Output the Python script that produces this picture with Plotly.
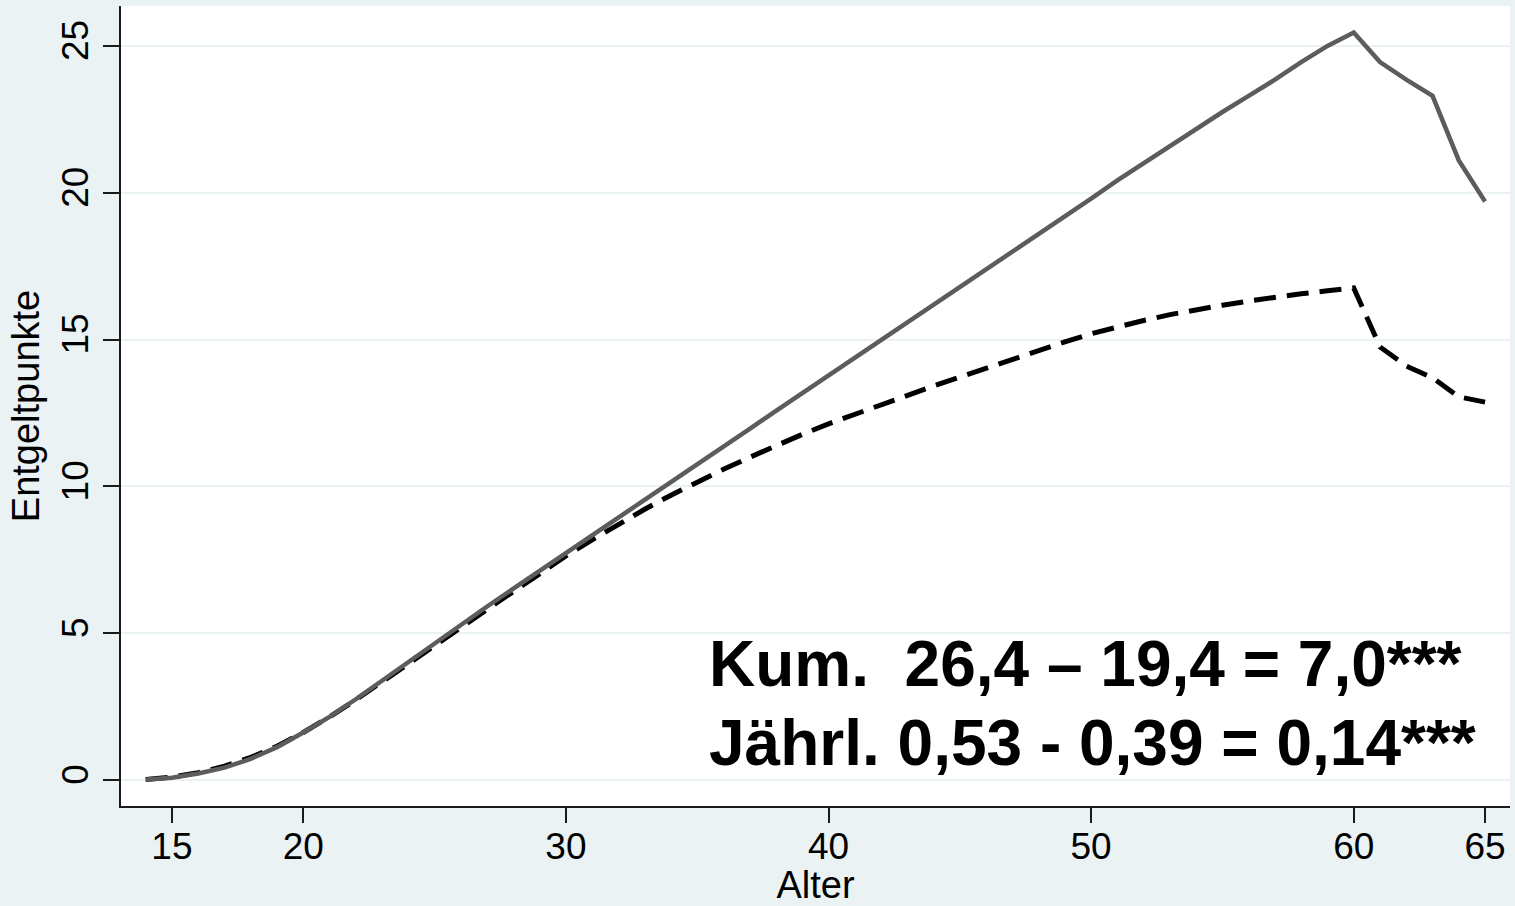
import plotly.graph_objects as go

ages = list(range(14, 66))

solid_vals = [0.02, 0.08, 0.22, 0.42, 0.72, 1.12, 1.62, 2.15, 2.75, 3.38,
              4.05, 4.68, 5.3, 5.91, 6.52, 7.12, 7.73, 8.33, 8.94, 9.54,
              10.15, 10.75, 11.36, 11.96, 12.57, 13.17, 13.78, 14.38, 14.99, 15.59,
              16.2, 16.78, 17.38, 17.98, 18.6, 19.2, 19.8, 20.42, 21.0, 21.6,
              22.2, 22.75, 23.3, 23.85, 24.45, 25.0, 25.46, 24.45, 23.85, 23.3,
              21.1, 19.7]

dashed_vals = [0.02, 0.1, 0.25, 0.47, 0.77, 1.15, 1.62, 2.15, 2.73, 3.35,
               3.98, 4.6, 5.22, 5.82, 6.42, 7.02, 7.63, 8.18, 8.72, 9.22,
               9.7, 10.15, 10.58, 10.99, 11.4, 11.77, 12.13, 12.46, 12.79, 13.11,
               13.42, 13.72, 14.03, 14.33, 14.63, 14.92, 15.2, 15.44, 15.65, 15.85,
               16.02, 16.17, 16.31, 16.45, 16.56, 16.66, 16.76, 14.75, 14.1, 13.7,
               13.05, 12.87]

x_ticks = [15, 20, 30, 40, 50, 60, 65]
y_ticks = [0, 5, 10, 15, 20, 25]

annot_lines = ["Kum.  26,4 \u2013 19,4 = 7,0***",
               "J\u00e4hrl. 0,53 - 0,39 = 0,14***"]

BG = "#eaf2f3"
FONT = "Liberation Sans, Arial, Helvetica, sans-serif"

fig = go.Figure()
fig.add_trace(go.Scatter(x=ages, y=dashed_vals, mode="lines",
                         line=dict(color="#000000", width=5, dash="22px,11px"),
                         showlegend=False))
fig.add_trace(go.Scatter(x=ages, y=solid_vals, mode="lines",
                         line=dict(color="#5c5c5c", width=4.5),
                         showlegend=False))

for i, txt in enumerate(annot_lines):
    fig.add_annotation(x=0.422, y=0.178 - i * 0.099, xref="paper", yref="paper",
                       text=f"<b>{txt}</b>", showarrow=False,
                       xanchor="left", yanchor="middle",
                       font=dict(family=FONT, size=64, color="#000000"))

fig.update_layout(
    width=1515, height=906,
    margin=dict(l=121, r=5, t=6, b=100),
    paper_bgcolor=BG, plot_bgcolor="#ffffff",
    font=dict(family=FONT, size=37, color="#000000"),
    showlegend=False,
)
fig.update_xaxes(range=[13.06, 65.95], tickvals=x_ticks, ticktext=[str(v) for v in x_ticks],
                 showgrid=False, zeroline=False, showline=True, linecolor="#1a1a1a", linewidth=2,
                 ticks="outside", ticklen=15, tickwidth=2, tickcolor="#1a1a1a",
                 tickfont=dict(size=37), ticklabelstandoff=-8,
                 title=dict(text="Alter", font=dict(size=38), standoff=6))
fig.update_yaxes(range=[-0.885, 26.36], tickvals=y_ticks, ticktext=[str(v) for v in y_ticks],
                 showgrid=True, gridcolor=BG, gridwidth=2, zeroline=False,
                 showline=True, linecolor="#1a1a1a", linewidth=2,
                 ticks="outside", ticklen=16, tickwidth=2, tickcolor="#1a1a1a",
                 tickangle=-90, tickfont=dict(size=37),
                 title=dict(text="Entgeltpunkte", font=dict(size=38), standoff=4))

fig.write_html("out.html")
